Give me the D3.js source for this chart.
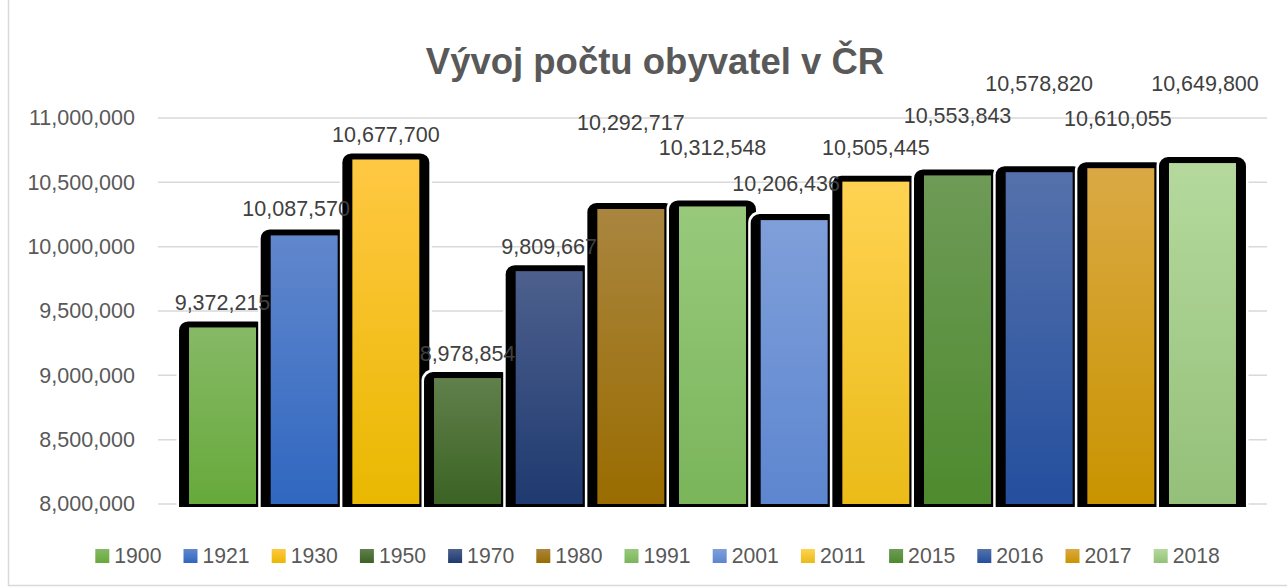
<!DOCTYPE html>
<html>
<head>
<meta charset="utf-8">
<script src="https://cdn.jsdelivr.net/npm/d3@7"></script>
<style>
  html, body { margin: 0; padding: 0; background: #fff; }
  svg { display: block; }
</style>
</head>
<body>
<svg id="chart" width="1287" height="587"></svg>
<script>
// ---- data ----
const title = "Vývoj počtu obyvatel v ČR";
const years = ["1900","1921","1930","1950","1970","1980","1991","2001","2011","2015","2016","2017","2018"];
const population = [9372215, 10087570, 10677700, 8978854, 9809667, 10292717, 10312548, 10206436, 10505445, 10553843, 10578820, 10610055, 10649800];
const yTicks = [8000000, 8500000, 9000000, 9500000, 10000000, 10500000, 11000000];

// ---- styling / layout (not data) ----
const colorsTop    = ["#86b966","#6187cd","#ffc843","#61804c","#4d608d","#a9853f","#98c97b","#7f9fd9","#ffd352","#6e9b57","#5571ab","#daa944","#b5d99d"];
const colorsBottom = ["#67a93b","#3067c0","#e9b800","#3b6323","#1f3a70","#9a6c00","#7ab55a","#5d86d0","#eabb18","#4e8a2e","#244f9e","#c99400","#94c079"];
// Excel-like label nudges (px) relative to default "outside end" placement
const labelNudgeY = [0, -1.5, 0, 0, 0, -61.5, -34, -12, -9, -34.5, -64, -25, -55];
const labelNudgeX = [0, -8, 0, 0, 0, 0, 0, -8, 0, 0, 0, -3, 2.5];

const svg = d3.select("#chart");
const W = 1287, H = 587;
const plot = { left: 158, right: 1267, top: 118, bottom: 504 };

// chart area border
svg.append("rect").attr("x", 8.5).attr("y", -5).attr("width", W + 10).attr("height", 590.5)
  .attr("fill", "none").attr("stroke", "#d9d9d9").attr("stroke-width", 1.5);

const defs = svg.append("defs");
years.forEach((yr, i) => {
  const g = defs.append("linearGradient").attr("id", "grad" + i)
    .attr("x1", 0).attr("y1", 0).attr("x2", 0).attr("y2", 1);
  g.append("stop").attr("offset", "0%").attr("stop-color", colorsTop[i]);
  g.append("stop").attr("offset", "100%").attr("stop-color", colorsBottom[i]);
});
defs.append("clipPath").attr("id", "plotClip")
  .append("rect").attr("x", 0).attr("y", 0).attr("width", W).attr("height", 507);

const y = d3.scaleLinear().domain([8000000, 11000000]).range([plot.bottom, plot.top]);
const x = d3.scaleBand().domain(years).range([plot.left, plot.right])
  .paddingInner(0.18).paddingOuter(0.38);

// title
svg.append("text").attr("x", 655).attr("y", 74).attr("text-anchor", "middle")
  .attr("font-family", "Liberation Sans, Arial, sans-serif").attr("font-weight", "bold")
  .attr("font-size", 36.5).attr("fill", "#595959").text(title);

// gridlines
svg.append("g").selectAll("line").data(yTicks).join("line")
  .attr("x1", plot.left).attr("x2", plot.right)
  .attr("y1", d => y(d)).attr("y2", d => y(d))
  .attr("stroke", "#d9d9d9").attr("stroke-width", 1.5);

// y axis labels
const yAxis = d3.axisLeft(y).tickValues(yTicks).tickFormat(d3.format(",")).tickSize(0).tickPadding(0);
const ga = svg.append("g").attr("transform", "translate(135,0)").call(yAxis);
ga.select(".domain").remove();
ga.selectAll("text").attr("font-family", "Liberation Sans, Arial, sans-serif")
  .attr("font-size", 21.5).attr("fill", "#595959");

// bars
const bars = svg.append("g").attr("clip-path", "url(#plotClip)");
years.forEach((yr, i) => {
  const x0 = x(yr), bw = x.bandwidth(), top = y(population[i]);
  const g = bars.append("g");
  g.append("rect").attr("x", x0 - 12.5).attr("y", top - 8.5).attr("width", bw + 25)
    .attr("height", plot.bottom + 20 - (top - 8.5)).attr("rx", 11).attr("fill", "#ffffff");
  g.append("rect").attr("x", x0 - 10).attr("y", top - 6).attr("width", bw + 20)
    .attr("height", plot.bottom + 20 - (top - 6)).attr("rx", 9).attr("fill", "#000000");
  g.append("rect").attr("x", x0).attr("y", top).attr("width", bw)
    .attr("height", plot.bottom - top).attr("fill", "url(#grad" + i + ")");
});

// data labels
svg.append("g").selectAll("text").data(years).join("text")
  .attr("x", (d, i) => x(d) + x.bandwidth() / 2 + labelNudgeX[i])
  .attr("y", (d, i) => y(population[i]) - 17.5 + labelNudgeY[i])
  .attr("text-anchor", "middle")
  .attr("font-family", "Liberation Sans, Arial, sans-serif").attr("font-size", 21.5)
  .attr("fill", "#404040")
  .text((d, i) => d3.format(",")(population[i]));

// legend
const legX0 = 95.3, legStep = 88.2, legY = 556;
const leg = svg.append("g").selectAll("g").data(years).join("g")
  .attr("transform", (d, i) => `translate(${legX0 + i * legStep},${legY})`);
leg.append("rect").attr("x", 0).attr("y", -7).attr("width", 14).attr("height", 14)
  .attr("fill", (d, i) => "url(#grad" + i + ")");
leg.append("text").attr("x", 19).attr("y", 0).attr("dy", "0.35em")
  .attr("font-family", "Liberation Sans, Arial, sans-serif").attr("font-size", 21.2)
  .attr("fill", "#595959").text(d => d);
</script>
</body>
</html>
